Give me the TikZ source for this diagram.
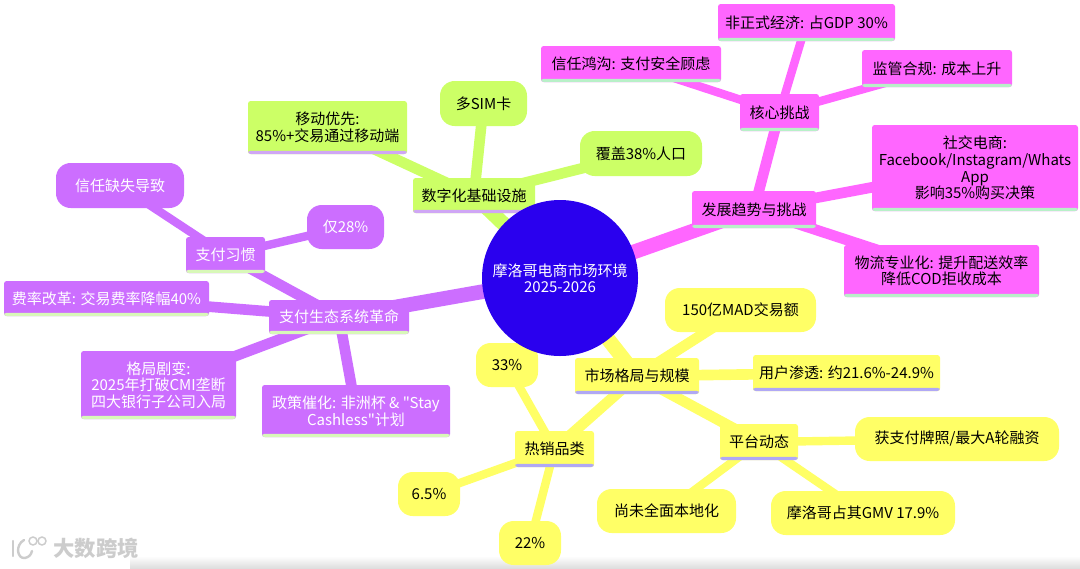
\documentclass[tikz,border=0pt]{standalone}
\usepackage{fontspec}
\setmainfont{Noto Sans CJK SC}
\newfontfamily\mmfont{Noto Sans CJK SC}
\usetikzlibrary{backgrounds}
\definecolor{cgreen}{HTML}{CCFF66}
\definecolor{cpink}{HTML}{FF66FF}
\definecolor{cpurple}{HTML}{CC6EFF}
\definecolor{cyellow}{HTML}{FFFF66}
\definecolor{croot}{HTML}{2A00EE}
\definecolor{ugreen}{HTML}{CFA6F5}
\definecolor{upink}{HTML}{B8F0C8}
\definecolor{upurple}{HTML}{D8F8B8}
\definecolor{uyellow}{HTML}{B0A8F5}
\tikzset{
  x=0.75pt,y=-0.75pt,
  mmbase/.style={inner sep=0pt,align=center,font=\mmfont\fontsize{11.25}{12.4}\selectfont},
  rectnode/.style={mmbase,rectangle,rounded corners=2pt},
  pillnode/.style={mmbase,rectangle,rounded corners=11pt},
  underline/.style={path picture={\fill[#1] (path picture bounding box.south west) rectangle ([yshift=2.4pt]path picture bounding box.south east);}},
  gbox/.style={rectnode,fill=cgreen,text=black,underline=ugreen},
  gpill/.style={pillnode,fill=cgreen,text=black},
  kbox/.style={rectnode,fill=cpink,text=black,underline=upink},
  pbox/.style={rectnode,fill=cpurple,text=white,underline=upurple},
  ppill/.style={pillnode,fill=cpurple,text=white},
  ybox/.style={rectnode,fill=cyellow,text=black,underline=uyellow},
  ypill/.style={pillnode,fill=cyellow,text=black},
  rootnode/.style={mmbase,circle,fill=croot,text=white,minimum size=117pt},
  trunk/.style={line width=11pt},
  limb/.style={line width=8pt},
  twig/.style={line width=6.3pt},
  gedge/.style={draw=cgreen},
  kedge/.style={draw=cpink},
  pedge/.style={draw=cpurple},
  yedge/.style={draw=cyellow},
}
\newcommand{\mmnode}[7]{%
  \pgfmathsetmacro{\mmw}{(#5-#3)*0.75}%
  \pgfmathsetmacro{\mmh}{(#6-#4)*0.75}%
  \node[#1,minimum width=\mmw pt,minimum height=\mmh pt] (#2) at ({(#3+#5)/2},{(#4+#6)/2}) {#7};}
\begin{document}
\begin{tikzpicture}
\useasboundingbox (0,0) rectangle (1080,568);

% green
\mmnode{gbox}{g0}{413}{178}{535}{213}{数字化基础设施}
\mmnode{gbox}{g1}{248}{101}{407}{154}{移动优先:\\85\%+交易通过移动端}
\mmnode{gpill}{g2}{440}{81}{527}{126}{多SIM卡}
\mmnode{gpill}{g3}{580}{131}{702}{176}{覆盖38\%人口}
% pink
\mmnode{kbox}{k0}{692}{191}{816}{228}{发展趋势与挑战}
\mmnode{kbox}{k1}{740}{94}{819}{131}{核心挑战}
\mmnode{kbox}{k2}{718}{4}{895}{41}{非正式经济: 占GDP 30\%}
\mmnode{kbox}{k3}{541}{46}{721}{82}{信任鸿沟: 支付安全顾虑}
\mmnode{kbox}{k4}{862}{50}{1012}{87}{监管合规: 成本上升}
\mmnode{kbox}{k5}{872}{125}{1078}{211}{社交电商:\\Facebook/Instagram/Whats\\App\\影响35\%购买决策}
\mmnode{kbox}{k6}{844}{245}{1039}{297}{物流专业化: 提升配送效率\\降低COD拒收成本}
% purple
\mmnode{pbox}{p0}{269}{300}{409}{334}{支付生态系统革命}
\mmnode{pbox}{p1}{186}{237}{265}{273}{支付习惯}
\mmnode{ppill}{p2}{56}{163}{184}{208}{信任缺失导致}
\mmnode{ppill}{p3}{307}{205}{384}{249}{仅28\%}
\mmnode{pbox}{p4}{4}{281}{209}{316}{费率改革: 交易费率降幅40\%}
\mmnode{pbox}{p5}{81}{351}{236}{419}{格局剧变:\\2025年打破CMI垄断\\四大银行子公司入局}
\mmnode{pbox}{p6}{262}{385}{450}{437}{政策催化: 非洲杯 \& "Stay\\Cashless"计划}
% yellow
\mmnode{ybox}{y0}{575}{358}{699}{394}{市场格局与规模}
\mmnode{ypill}{y1}{665}{288}{816}{332}{150亿MAD交易额}
\mmnode{ybox}{y2}{753}{355}{940}{391}{用户渗透: 约21.6\%-24.9\%}
\mmnode{ybox}{y3}{720}{424}{798}{460}{平台动态}
\mmnode{ypill}{y4}{855}{417}{1059}{461}{获支付牌照/最大A轮融资}
\mmnode{ypill}{y5}{771}{491}{955}{535}{摩洛哥占其GMV 17.9\%}
\mmnode{ypill}{y6}{597}{489}{736}{533}{尚未全面本地化}
\mmnode{ybox}{y7}{515}{431}{594}{467}{热销品类}
\mmnode{ypill}{y8}{476}{343}{538}{387}{33\%}
\mmnode{ypill}{y9}{398}{472}{460}{516}{6.5\%}
\mmnode{ypill}{y10}{499}{521}{561}{565}{22\%}

\node[rootnode] (root) at (560,278) {摩洛哥电商市场环境\\2025-2026};

\begin{pgfonlayer}{background}
  \fill[white] (0,0) rectangle (1080,568);
  \shade[top color=white,bottom color=black!13] (130,556) rectangle (1080,568);
  \draw[trunk,gedge] (root.center) -- (g0.center);
  \draw[limb,gedge] (g0.center) -- (g1.center);
  \draw[limb,gedge] (g0.center) -- (g2.center);
  \draw[limb,gedge] (g0.center) -- (g3.center);
  \draw[trunk,kedge] (root.center) -- (k0.center);
  \draw[limb,kedge] (k0.center) -- (k1.center);
  \draw[twig,kedge] (k1.center) -- (k2.center);
  \draw[twig,kedge] (k1.center) -- (k3.center);
  \draw[twig,kedge] (k1.center) -- (k4.center);
  \draw[limb,kedge] (k0.center) -- (k5.center);
  \draw[limb,kedge] (k0.center) -- (k6.center);
  \draw[trunk,pedge] (root.center) -- (p0.center);
  \draw[limb,pedge] (p0.center) -- (p1.center);
  \draw[twig,pedge] (p1.center) -- (p2.center);
  \draw[twig,pedge] (p1.center) -- (p3.center);
  \draw[limb,pedge] (p0.center) -- (p4.center);
  \draw[limb,pedge] (p0.center) -- (p5.center);
  \draw[limb,pedge] (p0.center) -- (p6.center);
  \draw[trunk,yedge] (root.center) -- (y0.center);
  \draw[limb,yedge] (y0.center) -- (y1.center);
  \draw[limb,yedge] (y0.center) -- (y2.center);
  \draw[limb,yedge] (y0.center) -- (y3.center);
  \draw[limb,yedge] (y0.center) -- (y7.center);
  \draw[twig,yedge] (y3.center) -- (y4.center);
  \draw[twig,yedge] (y3.center) -- (y5.center);
  \draw[twig,yedge] (y3.center) -- (y6.center);
  \draw[twig,yedge] (y7.center) -- (y8.center);
  \draw[twig,yedge] (y7.center) -- (y9.center);
  \draw[twig,yedge] (y7.center) -- (y10.center);
\end{pgfonlayer}

% watermark
\node[inner sep=0pt,text=black!20,font=\bfseries\fontsize{16}{16}\selectfont] (wm) at (96,548) {大数跨境};
\draw[black!20,line width=1.8pt,line cap=round] (13,541) -- (13,556);
\draw[black!20,line width=1.8pt,line cap=round] (24,540) .. controls (15,545) and (17,559) .. (25,558) .. controls (29,557) and (31,555) .. (32,551);
\draw[black!20,line width=1.1pt] (33,541) circle (4);
\draw[black!20,line width=1.1pt] (42,541) circle (4);
\end{tikzpicture}
\end{document}
